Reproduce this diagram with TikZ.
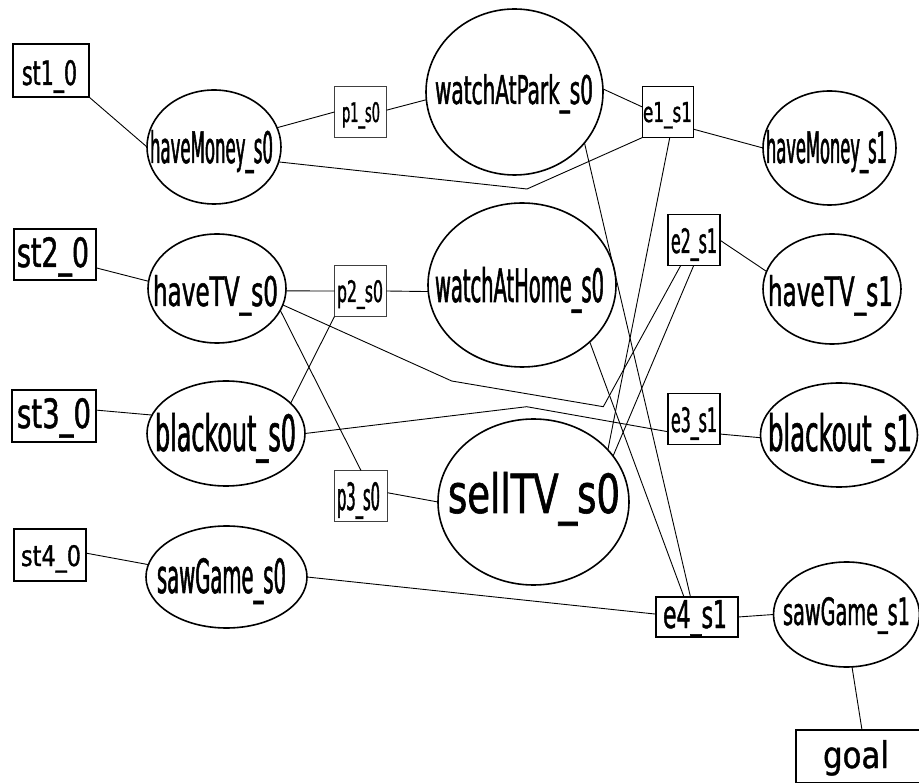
\documentclass[tikz,border=0pt]{standalone}
\usepackage{fontspec}
\setmainfont{DejaVu Sans Condensed}
\usepackage{graphicx}
\usetikzlibrary{shapes.geometric}
\newlength\labw
\newcommand{\lab}[3]{%
  \pgfmathsetmacro{\labs}{#2/0.75}%
  \fontsize{\labs pt}{\labs pt}\selectfont
  \settowidth{\labw}{#3}%
  \pgfmathsetmacro{\labr}{#1/\labw}%
  \addfontfeatures{FakeStretch=\labr, FakeBold=1.1}%
  \resizebox{#1pt}{#2pt}{#3}}
\tikzset{
  edge/.style={line width=0.9pt},
  ell/.style={ellipse, draw, line width=1.6pt, inner sep=0pt, outer sep=0pt},
  stbox/.style={rectangle, draw, line width=2.6pt, inner sep=0pt, outer sep=0pt},
  pbox/.style={rectangle, draw=black!75, line width=1.3pt, inner sep=0pt, outer sep=0pt},
  ebox/.style={rectangle, draw, line width=1.6pt, inner sep=0pt, outer sep=0pt},
  lbl/.style={anchor=base, inner sep=0pt, outer sep=0pt},
}
\begin{document}
\begin{tikzpicture}[x=1pt,y=-1pt]
\useasboundingbox (0,0) rectangle (919,783);
% boxes
\node[stbox, minimum width=76pt, minimum height=53pt] (st1) at (51,70.5) {};
\node[stbox, minimum width=82pt, minimum height=51pt] (st2) at (55,254.5) {};
\node[stbox, minimum width=84pt, minimum height=52pt] (st3) at (54,416) {};
\node[stbox, minimum width=72pt, minimum height=52pt] (st4) at (50,555) {};
\node[pbox, minimum width=52pt, minimum height=51pt] (p1) at (360.5,112) {};
\node[pbox, minimum width=52pt, minimum height=51pt] (p2) at (360.5,291) {};
\node[pbox, minimum width=53pt, minimum height=51pt] (p3) at (361,496) {};
\node[ebox, minimum width=51pt, minimum height=51pt] (e1) at (668,112) {};
\node[ebox, minimum width=52pt, minimum height=51pt] (e2) at (693.7,240) {};
\node[ebox, minimum width=52pt, minimum height=51pt] (e3) at (693.7,419) {};
\node[ebox, line width=2pt, minimum width=82pt, minimum height=40pt] (e4) at (697,617) {};
\node[ebox, minimum width=132pt, minimum height=53pt] (goal) at (862,756.5) {};
% ellipses
\node[ell, minimum width=134pt, minimum height=114pt] (hm0) at (214,147) {};
\node[ell, minimum width=133pt, minimum height=114pt] (hm1) at (829.5,148) {};
\node[ell, minimum width=177pt, minimum height=166pt] (wp) at (514.5,92) {};
\node[ell, minimum width=188pt, minimum height=164pt] (wh) at (522,285) {};
\node[ell, minimum width=138pt, minimum height=109pt] (tv0) at (217,288.5) {};
\node[ell, minimum width=138pt, minimum height=110pt] (tv1) at (832,289) {};
\node[ell, minimum width=158pt, minimum height=105pt] (bo0) at (226,433.5) {};
\node[ell, minimum width=157pt, minimum height=104pt] (bo1) at (839,435) {};
\node[ell, minimum width=191pt, minimum height=166pt] (stv) at (533.5,502) {};
\node[ell, minimum width=161pt, minimum height=102pt] (sg0) at (226.5,577) {};
\node[ell, minimum width=146pt, minimum height=105pt] (sg1) at (846.5,614.5) {};
% labels
\node[lbl] (lst1) at (49.5,85) {\lab{55}{25}{st1\_0}};
\node[lbl] (lst2) at (53,267) {\lab{72}{30}{st2\_0}};
\node[lbl] (lst3) at (54,428) {\lab{74}{30}{st3\_0}};
\node[lbl] (lst4) at (51,566) {\lab{60}{21}{st4\_0}};
\node[lbl] (lp1) at (361,122) {\lab{38}{20}{p1\_s0}};
\node[lbl] (lp2) at (360,302) {\lab{46}{22}{p2\_s0}};
\node[lbl] (lp3) at (358.5,510) {\lab{43}{28}{p3\_s0}};
\node[lbl] (le1) at (667.5,122) {\lab{49}{20}{e1\_s1}};
\node[lbl] (le2) at (694,253) {\lab{46}{25}{e2\_s1}};
\node[lbl] (le3) at (694,432) {\lab{46}{25}{e3\_s1}};
\node[lbl] (le4) at (695,628) {\lab{64}{28}{e4\_s1}};
\node[lbl] (lgoal) at (856,768) {\lab{66}{28}{goal}};
\node[lbl] (lhm0) at (211.5,163) {\lab{123}{33}{haveMoney\_s0}};
\node[lbl] (lhm1) at (826.5,163) {\lab{121}{33}{haveMoney\_s1}};
\node[lbl] (lwp) at (514,104) {\lab{158}{30}{watchAtPark\_s0}};
\node[lbl] (lwh) at (519.5,302) {\lab{169}{35}{watchAtHome\_s0}};
\node[lbl] (ltv0) at (215.5,306) {\lab{125}{31}{haveTV\_s0}};
\node[lbl] (ltv1) at (830.5,306) {\lab{125}{31}{haveTV\_s1}};
\node[lbl] (lbo0) at (225.5,451) {\lab{141}{38}{blackout\_s0}};
\node[lbl] (lbo1) at (840,451) {\lab{144}{38}{blackout\_s1}};
\node[lbl] (lstv) at (534,513) {\lab{172}{41}{sellTV\_s0}};
\node[lbl] (lsg0) at (221.5,593) {\lab{129}{35}{sawGame\_s0}};
\node[lbl] (lsg1) at (846.5,625) {\lab{127}{28}{sawGame\_s1}};
% bend points
\coordinate (b1) at (527,189);
\coordinate (b2) at (451.7,381);
\coordinate (b3) at (603.3,406.7);
\coordinate (b4) at (526.7,406.7);
% edges
\draw[edge] (st1.south east) -- (hm0.west);
\draw[edge] (hm0.17.7) -- (p1.west);
\draw[edge] (p1.4) -- (wp.185);
\draw[edge] (wp.2) -- (e1.169.6);
\draw[edge] (e1.326.4) -- (hm1.west);
\draw[edge] (hm0.347) -- (b1) -- (e1.south west);
\draw[edge] (wp.324.1) -- (e4.108.4);
\draw[edge] (wh.320.4) -- (e4.123.7);
\draw[edge] (e1.274) -- (stv.35.7);
\draw[edge] (e2.south) -- (stv.30);
\draw[edge] (tv0.346.5) -- (b2) -- (b3) -- (e2.243.2);
\draw[edge] (bo0.east) -- (b4) -- (e3.206.3);
\draw[edge] (e3.330) -- (bo1.182);
\draw[edge] (bo0.25.8) -- (p2.south west);
\draw[edge] (tv0.358) -- (p2.west);
\draw[edge] (p2.east) -- (wh.184);
\draw[edge] (tv0.341) -- (p3.north);
\draw[edge] (p3.7) -- (stv.west);
\draw[edge] (sg0.east) -- (e4.176);
\draw[edge] (e4.east) -- (sg1.west);
\draw[edge] (sg1.276) -- (goal.north);
\draw[edge] (st2.342) -- (tv0.174.5);
\draw[edge] (st3.8) -- (bo0.166.8);
\draw[edge] (st4.3.5) -- (sg0.171);
\draw[edge] (e2.east) -- (tv1.165.9);
\end{tikzpicture}
\end{document}
